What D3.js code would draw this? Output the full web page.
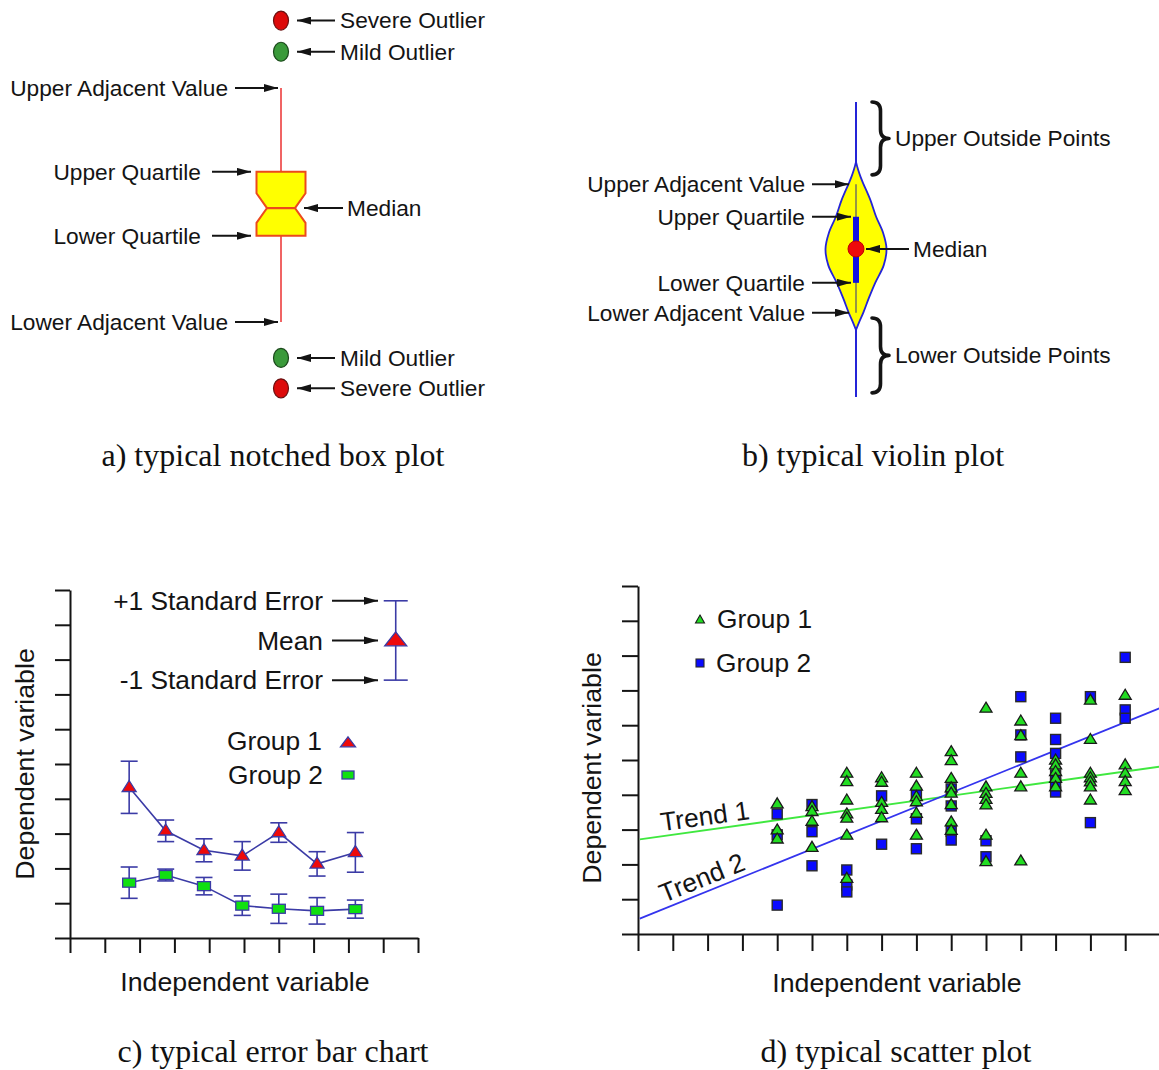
<!DOCTYPE html>
<html>
<head>
<meta charset="utf-8">
<script src="https://cdn.jsdelivr.net/npm/d3@7/dist/d3.min.js"></script>
<style>
  html, body { margin: 0; padding: 0; background: #ffffff; }
  svg { display: block; }
</style>
</head>
<body>
<svg id="fig" width="1159" height="1070"></svg>
<script>
// ---------- a) notched box plot: summary values ----------
const boxQuartiles = [42.1, 49.2, 58.5];   // lower quartile, median, upper quartile
const boxAdjacent = [20.0, 80.0];          // lower / upper adjacent values
const boxNotchHalf = 3.8;                  // notch half-height around the median
const mildOutliers = [10.8, 89.3];
const severeOutliers = [3.0, 97.3];

// ---------- b) violin plot ----------
const violinDensity = [
  [22.7, 0], [25.3, 0.1], [28.6, 0.24], [33.5, 0.42], [38.7, 0.63], [44.7, 0.91],
  [50.2, 1], [55.6, 0.89], [61.1, 0.66], [66.8, 0.47], [72.1, 0.25], [74.6, 0.15],
  [77.0, 0.07], [79.7, 0]
];
const violinQuartiles = [38.7, 50.2, 61.1];
const violinAdjacent = [28.6, 72.1];
const violinRange = [0, 100];
const outsideRanges = [[75.3, 100], [1.4, 26.8]];
const outsideLabels = ["Upper Outside Points", "Lower Outside Points"];

// ---------- c) error bar chart ----------
const ebX = [1.7, 2.75, 3.85, 4.95, 6.0, 7.1, 8.2];
const group1Mean = [4.33, 3.08, 2.52, 2.36, 3.03, 2.13, 2.46];
const group1SE   = [0.75, 0.31, 0.33, 0.41, 0.28, 0.35, 0.57];
const group2Mean = [1.59, 1.81, 1.49, 0.93, 0.84, 0.78, 0.83];
const group2SE   = [0.45, 0.17, 0.25, 0.28, 0.42, 0.38, 0.26];
const keyX = 9.36, keyMean = 8.55, keySE = 1.14;

// ---------- d) scatter plot ----------
const scatterX = [4, 5, 6, 7, 8, 9, 10, 11, 12, 13, 14];
const scatterG1 = [
  [3.74, 2.99, 2.73],
  [3.66, 3.52, 3.24, 2.49],
  [4.62, 4.38, 3.85, 3.45, 3.33, 2.84, 1.60],
  [4.49, 4.36, 3.78, 3.58, 3.34],
  [4.62, 4.25, 3.95, 3.80, 3.47, 2.84],
  [5.24, 4.98, 4.47, 4.20, 4.05, 3.72, 3.22, 2.98],
  [6.49, 4.23, 4.04, 3.87, 3.71, 2.84, 2.08],
  [6.12, 5.70, 4.62, 4.23, 2.10],
  [5.00, 4.86, 4.67, 4.47, 4.23],
  [6.72, 5.59, 4.62, 4.49, 4.37, 4.23, 3.85],
  [6.86, 4.86, 4.62, 4.38, 4.12]
];
const scatterG2 = [
  [3.45, 2.85, 0.83],
  [3.72, 2.94, 1.96],
  [1.84, 1.41, 1.21],
  [3.97, 2.58],
  [4.04, 3.31, 2.45],
  [4.17, 3.68, 2.95, 2.70],
  [2.68, 2.22],
  [6.82, 5.72, 5.09],
  [6.20, 5.59, 5.19, 4.57, 4.33, 4.08],
  [6.82, 3.20],
  [7.95, 6.44, 6.20]
];
const trend1 = [[0.05, 2.72], [15, 4.81]];
const trend2 = [[0.05, 0.44], [15, 6.49]];

const captions = ["a) typical notched box plot", "b) typical violin plot",
                  "c) typical error bar chart", "d) typical scatter plot"];

// ---------- shared helpers ----------
const SANS = "'Liberation Sans', Arial, Helvetica, sans-serif";
const SERIF = "'Liberation Serif', 'Times New Roman', serif";
const INK = "#141414";
const FS_TOP = 22.7, FS_BOTTOM = 26.3, FS_TITLE = 26.7;
const svg = d3.select("#fig");

svg.append("defs").append("marker")
  .attr("id", "ah").attr("viewBox", "0 0 14 8")
  .attr("refX", 14).attr("refY", 4)
  .attr("markerWidth", 14).attr("markerHeight", 8)
  .attr("markerUnits", "userSpaceOnUse").attr("orient", "auto")
  .append("path").attr("d", "M0,0 L14,4 L0,8 Z").attr("fill", INK);

function arrow(g, x1, y1, x2, y2) {
  g.append("line").attr("x1", x1).attr("y1", y1).attr("x2", x2).attr("y2", y2)
    .attr("stroke", INK).attr("stroke-width", 2).attr("marker-end", "url(#ah)");
}
function label(g, txt, x, y, anchor, size) {
  return g.append("text").attr("x", x).attr("y", y).attr("dy", "0.35em")
    .attr("text-anchor", anchor).attr("font-family", SANS)
    .attr("font-size", size).attr("fill", INK).text(txt);
}
function styleAxis(sel) {
  sel.selectAll("path, line").attr("stroke", INK).attr("stroke-width", 2);
}

// ================= a) notched box plot =================
{
  const g = svg.append("g");
  const y = d3.scaleLinear().domain([0, 100]).range([400, 10]);
  const cx = 281, bw = 24.5, nw = 14;
  const [lq, med, uq] = boxQuartiles;

  g.append("line").attr("x1", cx).attr("x2", cx)
    .attr("y1", y(boxAdjacent[1])).attr("y2", y(boxAdjacent[0]))
    .attr("stroke", "#f06464").attr("stroke-width", 2);

  const yU = y(uq), yL = y(lq), yM = y(med),
        yN1 = y(med + boxNotchHalf), yN2 = y(med - boxNotchHalf);
  const p = d3.path();
  p.moveTo(cx - bw, yU); p.lineTo(cx + bw, yU); p.lineTo(cx + bw, yN1);
  p.lineTo(cx + nw, yM); p.lineTo(cx + bw, yN2); p.lineTo(cx + bw, yL);
  p.lineTo(cx - bw, yL); p.lineTo(cx - bw, yN2); p.lineTo(cx - nw, yM);
  p.lineTo(cx - bw, yN1); p.closePath();
  g.append("path").attr("d", p.toString()).attr("fill", "#ffff00")
    .attr("stroke", "#ec4a1c").attr("stroke-width", 2).attr("stroke-linejoin", "miter");
  g.append("line").attr("x1", cx - nw).attr("x2", cx + nw).attr("y1", yM).attr("y2", yM)
    .attr("stroke", "#ec4a1c").attr("stroke-width", 2.2);

  const outliers = [
    ...severeOutliers.map(v => ({ v, kind: "Severe Outlier", fill: "#dd0a0a", stroke: "#6a1010" })),
    ...mildOutliers.map(v => ({ v, kind: "Mild Outlier", fill: "#3a9a3a", stroke: "#1c4a1c" }))
  ];
  g.selectAll("ellipse.out").data(outliers).join("ellipse")
    .attr("cx", cx).attr("cy", d => y(d.v)).attr("rx", 7.5).attr("ry", 9.5)
    .attr("fill", d => d.fill).attr("stroke", d => d.stroke).attr("stroke-width", 1.2);
  outliers.forEach(d => {
    arrow(g, 335, y(d.v), 297, y(d.v));
    label(g, d.kind, 340, y(d.v), "start", FS_TOP);
  });

  arrow(g, 343, yM, 304, yM);
  label(g, "Median", 347, yM, "start", FS_TOP);

  [["Upper Adjacent Value", boxAdjacent[1], 228, 235, 278],
   ["Upper Quartile", uq, 201, 212, 251],
   ["Lower Quartile", lq, 201, 212, 251],
   ["Lower Adjacent Value", boxAdjacent[0], 228, 235, 278]].forEach(([t, v, tx, ax1, ax2]) => {
    label(g, t, tx, y(v), "end", FS_TOP);
    arrow(g, ax1, y(v), ax2, y(v));
  });
}

// ================= b) violin plot =================
{
  const g = svg.append("g");
  const y = d3.scaleLinear().domain(violinRange).range([397, 102]);
  const w = d3.scaleLinear().domain([0, 1]).range([0, 30.5]);
  const cx = 856;

  g.append("line").attr("x1", cx).attr("x2", cx)
    .attr("y1", y(violinRange[0])).attr("y2", y(violinRange[1]))
    .attr("stroke", "#2424d8").attr("stroke-width", 2);

  const area = d3.area()
    .y(d => y(d[0]))
    .x0(d => cx - w(d[1]))
    .x1(d => cx + w(d[1]))
    .curve(d3.curveCatmullRom.alpha(0.5));
  g.append("path").datum(violinDensity).attr("d", area)
    .attr("fill", "#ffff00").attr("stroke", "#2424d8").attr("stroke-width", 1.8);

  g.append("line").attr("x1", cx).attr("x2", cx)
    .attr("y1", y(violinAdjacent[0])).attr("y2", y(violinAdjacent[1]))
    .attr("stroke", "#505070").attr("stroke-width", 1.2);
  g.append("rect").attr("x", cx - 3).attr("width", 6)
    .attr("y", y(violinQuartiles[2])).attr("height", y(violinQuartiles[0]) - y(violinQuartiles[2]))
    .attr("fill", "#1010e0");
  g.append("circle").attr("cx", cx).attr("cy", y(violinQuartiles[1])).attr("r", 8)
    .attr("fill", "#ee0a0a").attr("stroke", "#c00000").attr("stroke-width", 1);

  const yM = y(violinQuartiles[1]);
  arrow(g, 909, yM, 866, yM);
  label(g, "Median", 913, yM, "start", FS_TOP);

  [["Upper Adjacent Value", violinAdjacent[1], 849],
   ["Upper Quartile", violinQuartiles[2], 851],
   ["Lower Quartile", violinQuartiles[0], 851],
   ["Lower Adjacent Value", violinAdjacent[0], 849]].forEach(([t, v, ax2]) => {
    label(g, t, 805, y(v), "end", FS_TOP);
    arrow(g, 812, y(v), ax2, y(v));
  });

  function bracePath(x, yTop, yBot, bwid) {
    const h = bwid / 2, ym = (yTop + yBot) / 2, r = 9;
    return `M${x},${yTop} Q${x + h},${yTop} ${x + h},${yTop + r} L${x + h},${ym - r} ` +
           `Q${x + h},${ym} ${x + bwid},${ym} Q${x + h},${ym} ${x + h},${ym + r} ` +
           `L${x + h},${yBot - r} Q${x + h},${yBot} ${x},${yBot}`;
  }
  outsideRanges.forEach((r, i) => {
    const yTop = y(r[1]), yBot = y(r[0]);
    g.append("path").attr("d", bracePath(872, yTop, yBot, 17))
      .attr("fill", "none").attr("stroke", INK).attr("stroke-width", 3.6)
      .attr("stroke-linecap", "round").attr("stroke-linejoin", "round");
    label(g, outsideLabels[i], 895, (yTop + yBot) / 2, "start", FS_TOP);
  });
}

// ================= c) error bar chart =================
{
  const g = svg.append("g");
  const x = d3.scaleLinear().domain([0, 10]).range([70, 418]);
  const y = d3.scaleLinear().domain([0, 10]).range([938, 590]);

  g.append("g").attr("transform", `translate(${x(0)},0)`)
    .call(d3.axisLeft(y).ticks(10).tickSize(15).tickSizeOuter(0).tickFormat(""))
    .call(styleAxis);
  g.append("g").attr("transform", `translate(0,${y(0)})`)
    .call(d3.axisBottom(x).ticks(10).tickSize(15).tickSizeOuter(0).tickFormat(""))
    .call(styleAxis);

  const EB = "#3b3ba6";
  const line = d3.line().x(d => x(d[0])).y(d => y(d[1]));

  function errorBar(xv, m, se, half) {
    const bx = x(xv);
    g.append("line").attr("x1", bx).attr("x2", bx).attr("y1", y(m + se)).attr("y2", y(m - se))
      .attr("stroke", EB).attr("stroke-width", 1.6);
    [m + se, m - se].forEach(v => g.append("line")
      .attr("x1", bx - half).attr("x2", bx + half).attr("y1", y(v)).attr("y2", y(v))
      .attr("stroke", EB).attr("stroke-width", 1.6));
  }
  const tri = (w, h) => `M0,${-h * 0.62} L${w / 2},${h * 0.38} L${-w / 2},${h * 0.38} Z`;

  // group 2 (squares)
  const d2 = ebX.map((v, i) => [v, group2Mean[i]]);
  g.append("path").datum(d2).attr("d", line).attr("fill", "none").attr("stroke", EB).attr("stroke-width", 1.6);
  ebX.forEach((v, i) => errorBar(v, group2Mean[i], group2SE[i], 8.5));
  g.selectAll("rect.g2").data(d2).join("rect")
    .attr("x", d => x(d[0]) - 6.5).attr("y", d => y(d[1]) - 4.5).attr("width", 13).attr("height", 9)
    .attr("fill", "#10e010").attr("stroke", EB).attr("stroke-width", 1.3);

  // group 1 (triangles)
  const d1 = ebX.map((v, i) => [v, group1Mean[i]]);
  g.append("path").datum(d1).attr("d", line).attr("fill", "none").attr("stroke", EB).attr("stroke-width", 1.6);
  ebX.forEach((v, i) => errorBar(v, group1Mean[i], group1SE[i], 8.5));
  g.selectAll("path.g1").data(d1).join("path")
    .attr("transform", d => `translate(${x(d[0])},${y(d[1])})`).attr("d", tri(14, 11))
    .attr("fill", "#ee0a0a").attr("stroke", EB).attr("stroke-width", 1.3);

  // key: mean and standard error
  errorBar(keyX, keyMean, keySE, 12);
  g.append("path").attr("transform", `translate(${x(keyX)},${y(keyMean)})`).attr("d", tri(22, 14))
    .attr("fill", "#ee0a0a").attr("stroke", EB).attr("stroke-width", 1.3);
  [["+1 Standard Error", keyMean + keySE], ["Mean", keyMean], ["-1 Standard Error", keyMean - keySE]]
    .forEach(([t, v]) => {
      label(g, t, 323, y(v), "end", FS_BOTTOM);
      arrow(g, 332, y(v), 378, y(v));
    });

  // legend
  label(g, "Group 1", 322, 741, "end", FS_BOTTOM);
  g.append("path").attr("transform", "translate(348,743)").attr("d", tri(15, 10))
    .attr("fill", "#ee0a0a").attr("stroke", EB).attr("stroke-width", 1.3);
  label(g, "Group 2", 323, 775, "end", FS_BOTTOM);
  g.append("rect").attr("x", 342).attr("y", 771).attr("width", 12).attr("height", 8)
    .attr("fill", "#10e010").attr("stroke", EB).attr("stroke-width", 1.3);

  g.append("text").attr("transform", `translate(34,${(y(0) + y(10)) / 2}) rotate(-90)`)
    .attr("text-anchor", "middle").attr("font-family", SANS).attr("font-size", FS_TITLE)
    .attr("fill", INK).text("Dependent variable");
  g.append("text").attr("x", 245).attr("y", 991).attr("text-anchor", "middle")
    .attr("font-family", SANS).attr("font-size", FS_TITLE).attr("fill", INK).text("Independent variable");
}

// ================= d) scatter plot =================
{
  const g = svg.append("g");
  const x = d3.scaleLinear().domain([0, 15]).range([638, 1160]);
  const y = d3.scaleLinear().domain([0, 10]).range([934, 586]);

  g.append("g").attr("transform", `translate(${x(0)},0)`)
    .call(d3.axisLeft(y).ticks(10).tickSize(16).tickSizeOuter(0).tickFormat(""))
    .call(styleAxis);
  g.append("g").attr("transform", `translate(0,${y(0)})`)
    .call(d3.axisBottom(x).ticks(15).tickSize(17).tickSizeOuter(0).tickFormat(""))
    .call(styleAxis);

  const line = d3.line().x(d => x(d[0])).y(d => y(d[1]));
  g.append("path").datum(trend1).attr("d", line).attr("stroke", "#3fe83f").attr("stroke-width", 1.8).attr("fill", "none");
  g.append("path").datum(trend2).attr("d", line).attr("stroke", "#3434ee").attr("stroke-width", 1.8).attr("fill", "none");

  function trendLabel(txt, tr, xv, lift) {
    const [[xa, ya], [xb, yb]] = tr;
    const yv = ya + (yb - ya) * (xv - xa) / (xb - xa);
    const ang = Math.atan2(y(ya) - y(yb), x(xb) - x(xa)) * 180 / Math.PI;
    g.append("text").attr("transform", `translate(${x(xv)},${y(yv) - lift}) rotate(${-ang})`)
      .attr("font-family", SANS).attr("font-size", FS_BOTTOM).attr("fill", INK).text(txt);
  }
  trendLabel("Trend 1", trend1, 0.68, 5);
  trendLabel("Trend 2", trend2, 0.74, 6);

  const g2pts = scatterX.flatMap((xv, i) => scatterG2[i].map(v => [xv, v]));
  const g1pts = scatterX.flatMap((xv, i) => scatterG1[i].map(v => [xv, v]));
  g.selectAll("rect.s2").data(g2pts).join("rect")
    .attr("x", d => x(d[0]) - 5).attr("y", d => y(d[1]) - 5).attr("width", 10).attr("height", 10)
    .attr("fill", "#0a0aff").attr("stroke", "#2a2a2a").attr("stroke-width", 1.4);
  g.selectAll("path.s1").data(g1pts).join("path")
    .attr("transform", d => `translate(${x(d[0])},${y(d[1])})`)
    .attr("d", "M0,-6 L6,4 L-6,4 Z")
    .attr("fill", "#22dd22").attr("stroke", "#1a1a1a").attr("stroke-width", 1.3);

  // legend
  g.append("path").attr("transform", "translate(700,620)").attr("d", "M0,-5 L4.5,3 L-4.5,3 Z")
    .attr("fill", "#22dd22").attr("stroke", "#1a1a1a").attr("stroke-width", 1.1);
  label(g, "Group 1", 717, 619, "start", FS_BOTTOM);
  g.append("rect").attr("x", 696).attr("y", 659).attr("width", 8).attr("height", 8)
    .attr("fill", "#0a0aff").attr("stroke", "#2a2a2a").attr("stroke-width", 1.1);
  label(g, "Group 2", 716, 663, "start", FS_BOTTOM);

  g.append("text").attr("transform", `translate(601,${(y(0) + y(10)) / 2 + 8}) rotate(-90)`)
    .attr("text-anchor", "middle").attr("font-family", SANS).attr("font-size", FS_TITLE)
    .attr("fill", INK).text("Dependent variable");
  g.append("text").attr("x", 897).attr("y", 992).attr("text-anchor", "middle")
    .attr("font-family", SANS).attr("font-size", FS_TITLE).attr("fill", INK).text("Independent variable");
}

// ================= captions =================
const capPos = [[273, 466], [873, 466], [273, 1062], [896, 1062]];
svg.selectAll("text.caption").data(captions).join("text")
  .attr("class", "caption")
  .attr("x", (d, i) => capPos[i][0]).attr("y", (d, i) => capPos[i][1])
  .attr("text-anchor", "middle").attr("font-family", SERIF).attr("font-size", 32)
  .attr("fill", "#111").text(d => d);
</script>
</body>
</html>
